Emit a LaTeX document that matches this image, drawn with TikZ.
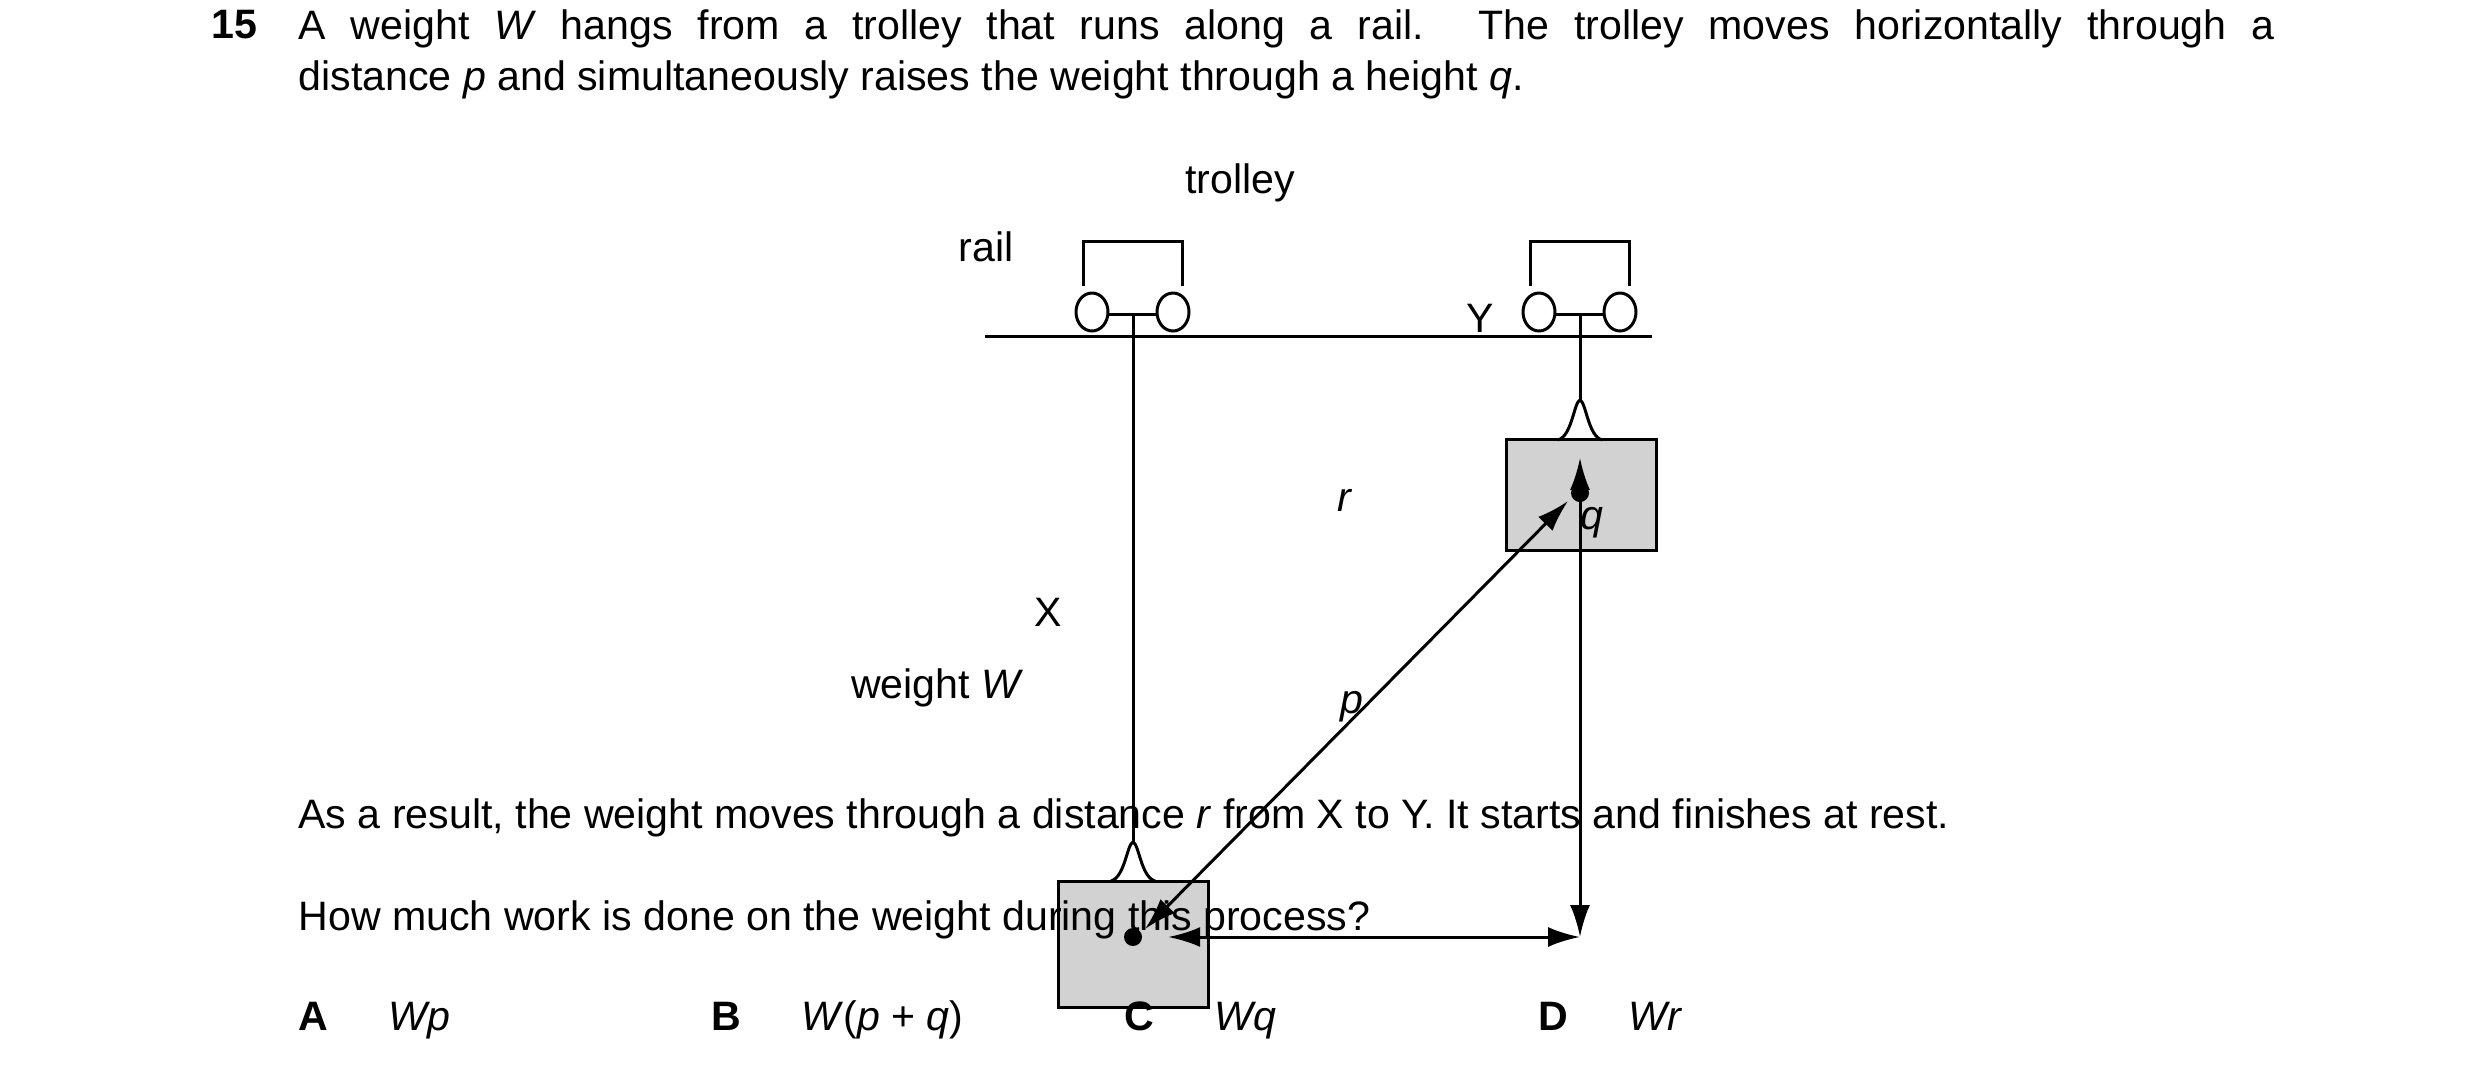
\documentclass[tikz,border=0pt]{standalone}
\usepackage{fontspec}
\setmainfont{Liberation Sans}
\usetikzlibrary{arrows.meta,shapes.geometric}

\begin{document}
\begin{tikzpicture}[x=0.1mm,y=-0.1mm,
        line width=0.85pt,
        txt/.style={inner sep=0pt,font=\fontsize{11.7}{14.5}\selectfont},
        wheel/.style={draw,fill=white,ellipse,minimum width=3.2mm,minimum height=3.8mm,inner sep=0pt},
        box/.style={draw,fill=gray!35,inner sep=0pt},
        dbl/.style={{Latex[length=3.2mm,width=2mm]}-{Latex[length=3.2mm,width=2mm]}}
    ]
    \useasboundingbox (0,0) rectangle (2480,1084);
    % question text
    \node[txt,anchor=base west,font=\fontsize{11.7}{14.5}\bfseries] (num) at (210,38) {15};
    \node[txt,anchor=north west,text width=197.6mm,align=justify] (stem) at (297,8)
        {A weight \textit{W} hangs from a trolley that runs along a rail. The trolley moves horizontally through a\linebreak distance \textit{p} and simultaneously raises the weight through a height \textit{q}.};
    % rail
    \coordinate (railL) at (985,336);
    \coordinate (railR) at (1652,336);
    \draw (railL) -- (railR);
    \node[txt,anchor=east] (rail) at (1015,247) {rail};
    \node[txt] (trolley) at (1240,183) {trolley};
    % trolleys
    \foreach \n/\x in {a/1133,b/1580}{
        \draw (\x-50,286) |- (\x+49,241) -- (\x+49,286);
        \draw (\x-40,314) -- (\x+40,314);
        \node[wheel] (w1\n) at (\x-41,312) {};
        \node[wheel] (w2\n) at (\x+40,312) {};
    }
    % weights
    \node[box,minimum width=15mm,minimum height=12.6mm] (X) at (1133,944) {};
    \node[box,minimum width=15mm,minimum height=11.1mm] (Y) at (1581,495) {};
    \foreach \x/\t/\h in {1133/881/842,1580/440/400}{
        \draw (\x-22,\t) .. controls (\x-8,\t-4) and (\x-6,\h+2) .. (\x,\h)
              .. controls (\x+6,\h+2) and (\x+8,\t-4) .. (\x+22,\t);
    }
    \draw (1133,314) -- (1133,842);
    \draw (1580,314) -- (1580,400);
    \fill (1133,937) circle (9) coordinate (dX);
    \fill (1580,493) circle (9) coordinate (dY);
    \coordinate (corner) at (1580,937);
    \node[txt] (lX) at (1048,612) {X};
    \node[txt] (lY) at (1480,318) {Y};
    \node[txt,anchor=east] (lW) at (1025,688) {weight \textit{W}};
    % displacements
    \draw[dbl] ([shift={(12,-8)}]dX) -- ([shift={(-12,8)}]dY);
    \draw[dbl] ([xshift=10]dX) -- (corner);
    \draw[dbl] (corner) -- ([yshift=10]dY);
    \node[txt] (lr) at (1345,500) {\textit{r}};
    \node[txt] (lq) at (1592,523) {\textit{q}};
    \node[txt] (lp) at (1352,707) {\textit{p}};
    % rest of question
    \node[txt,anchor=base west] (res) at (297,828) {As a result, the weight moves through a distance \textit{r} from X to Y. It starts and finishes at rest.};
    \node[txt,anchor=base west] (ask) at (297,930) {How much work is done on the weight during this process?};
    \foreach \l/\x/\a in {A/297/\textit{Wp},B/710/\textit{W}(\textit{p} + \textit{q}),C/1123/\textit{Wq},D/1537/\textit{Wr}}{
        \node[txt,anchor=base west,font=\fontsize{11.7}{14.5}\bfseries] (o\l) at (\x,1030) {\l};
        \node[txt,anchor=base west] (a\l) at (\x+90,1030) {\a};
    }
\end{tikzpicture}
\end{document}
